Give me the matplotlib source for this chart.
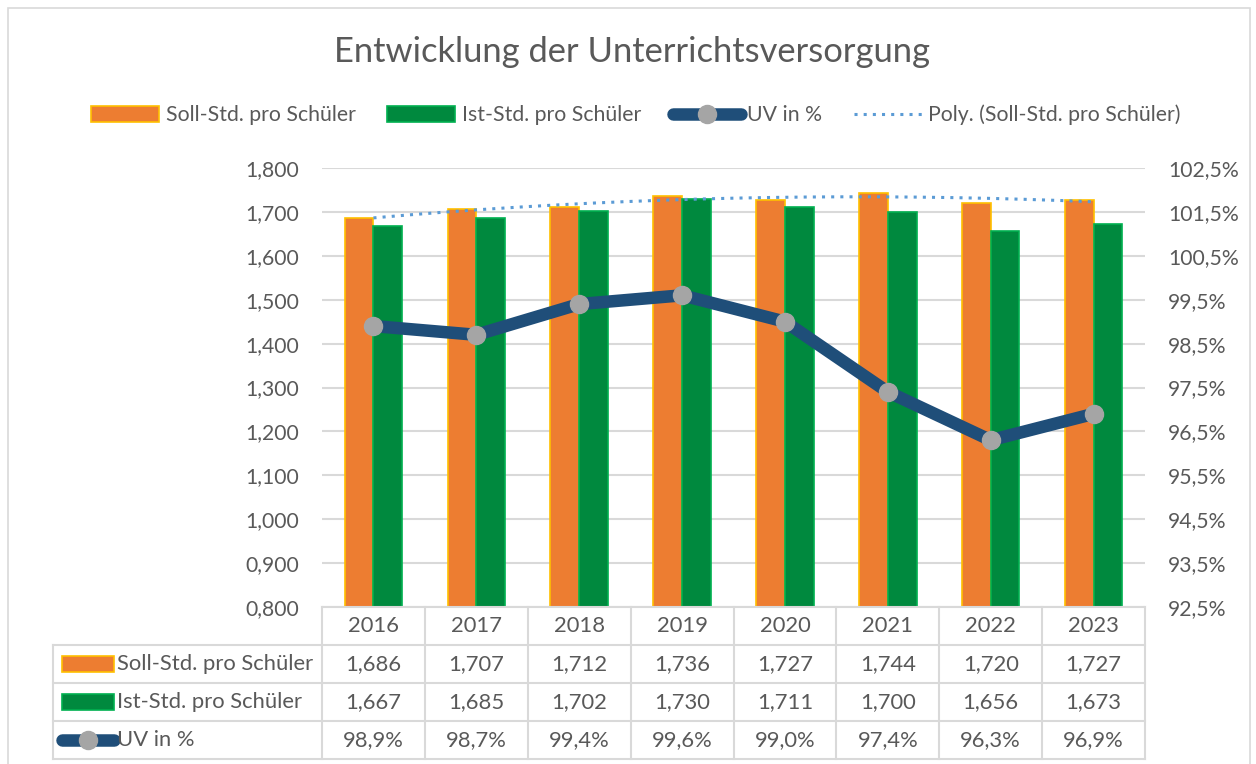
import numpy as np
import matplotlib.pyplot as plt
from matplotlib.patches import Patch, Rectangle
from matplotlib.lines import Line2D

plt.rcParams['font.family'] = ['Lato', 'DejaVu Sans']

years = ['2016', '2017', '2018', '2019', '2020', '2021', '2022', '2023']
soll = [1.686, 1.707, 1.712, 1.736, 1.727, 1.744, 1.720, 1.727]
ist = [1.667, 1.685, 1.702, 1.730, 1.711, 1.700, 1.656, 1.673]
uv = [98.9, 98.7, 99.4, 99.6, 99.0, 97.4, 96.3, 96.9]

row_labels = ['Soll-Std. pro Schüler', 'Ist-Std. pro Schüler', 'UV in %']

C_SOLL = '#ED7D31'
C_SOLL_EDGE = '#FFC000'
C_IST = '#00893E'
C_IST_EDGE = '#00B050'
C_UV = '#1F4E79'
C_MARK = '#A5A5A5'
C_TREND = '#5B9BD5'
C_TEXT = '#595959'
C_GRID = '#D9D9D9'

W, H = 1256, 764
fig = plt.figure(figsize=(W / 100, H / 100), dpi=100)


def fx(px):
    return px / W


def fy(py):
    return 1 - py / H


# plot area in pixels
L, R, T, B = 322, 1145, 168, 607
ax = fig.add_axes([fx(L), fy(B), fx(R - L), (B - T) / H])
x = np.arange(len(years))
bw = 0.28
ax.bar(x - bw / 2, soll, bw, color=C_SOLL, edgecolor=C_SOLL_EDGE, linewidth=1.2, zorder=2)
ax.bar(x + bw / 2, ist, bw, color=C_IST, edgecolor=C_IST_EDGE, linewidth=1.2, zorder=2)

# polynomial trend (order 2) of Soll
coef = np.polyfit(x + 1, soll, 2)
xs = np.linspace(0, len(years) - 1, 200)
ax.plot(xs, np.polyval(coef, xs + 1), color=C_TREND, linestyle=(0, (1, 2.0)),
        linewidth=2.2, zorder=4)

tick_fs = 15.2
ax.set_xlim(-0.5, len(years) - 0.5)
ax.set_ylim(0.8, 1.8)
ax.set_yticks(np.arange(0.8, 1.801, 0.1))
ax.set_yticklabels([f'{v:.3f}'.replace('.', ',') for v in np.arange(0.8, 1.801, 0.1)])
ax.yaxis.grid(True, color=C_GRID, linewidth=1.5, zorder=0)
ax.set_axisbelow(True)
ax.set_xticks([])
ax.tick_params(axis='y', length=0, pad=16.5, labelsize=tick_fs, labelcolor=C_TEXT)
for s in ax.spines.values():
    s.set_visible(False)

ax2 = ax.twinx()
ax2.plot(x, uv, color=C_UV, linewidth=9, marker='o', markersize=13,
         markerfacecolor=C_MARK, markeredgecolor=C_MARK, solid_capstyle='round', zorder=5)
ax2.set_ylim(92.5, 102.5)
ax2.set_yticks(np.arange(92.5, 102.51, 1.0))
ax2.set_yticklabels([f'{v:.1f}%'.replace('.', ',') for v in np.arange(92.5, 102.51, 1.0)])
ax2.tick_params(axis='y', length=0, pad=16.5, labelsize=tick_fs, labelcolor=C_TEXT)
for s in ax2.spines.values():
    s.set_visible(False)

# data table
TL, TT, TB = 53, 607, 759
cw = (R - L) / len(years)
tax = fig.add_axes([fx(TL), fy(TB), fx(R - TL), (TB - TT) / H])
tax.set_xlim(-0.5 - (L - TL) / cw, len(years) - 0.5)
tax.set_ylim(4, 0)
tax.axis('off')
x0 = -0.5 - (L - TL) / cw
lw = 1.5
tax.plot([-0.5, len(years) - 0.5], [0, 0], color=C_GRID, lw=lw, clip_on=False)
for r in range(1, 5):
    tax.plot([x0, len(years) - 0.5], [r, r], color=C_GRID, lw=lw, clip_on=False)
for c in range(len(years) + 1):
    tax.plot([c - 0.5, c - 0.5], [0, 4], color=C_GRID, lw=lw, clip_on=False)
tax.plot([x0, x0], [1, 4], color=C_GRID, lw=lw, clip_on=False)

fs = 15.8
for i, yr in enumerate(years):
    tax.text(i, 0.5, yr, ha='center', va='center', fontsize=fs, color=C_TEXT)
    tax.text(i, 1.5, f'{soll[i]:.3f}'.replace('.', ','), ha='center', va='center', fontsize=fs, color=C_TEXT)
    tax.text(i, 2.5, f'{ist[i]:.3f}'.replace('.', ','), ha='center', va='center', fontsize=fs, color=C_TEXT)
    tax.text(i, 3.5, f'{uv[i]:.1f}%'.replace('.', ','), ha='center', va='center', fontsize=fs, color=C_TEXT)

# legend keys inside the table
kx0 = x0 + 9 / cw
kw = 52 / cw
tax.add_patch(Rectangle((kx0, 1.5 - 0.2), kw, 0.4, facecolor=C_SOLL, edgecolor=C_SOLL_EDGE, lw=1.2))
tax.add_patch(Rectangle((kx0, 2.5 - 0.2), kw, 0.4, facecolor=C_IST, edgecolor=C_IST_EDGE, lw=1.2))
tax.plot([kx0, kx0 + kw], [3.5, 3.5], color=C_UV, lw=9, solid_capstyle='round')
tax.plot([kx0 + kw / 2], [3.5], marker='o', markersize=13, color=C_MARK)
for r, lab in enumerate(row_labels):
    tax.text(kx0 + kw + 3 / cw, 1.5 + r, lab, ha='left', va='center', fontsize=fs, color=C_TEXT)

# legend on top
handles = [
    Patch(facecolor=C_SOLL, edgecolor=C_SOLL_EDGE, linewidth=1.2),
    Patch(facecolor=C_IST, edgecolor=C_IST_EDGE, linewidth=1.2),
    Line2D([], [], color=C_UV, lw=9, marker='o', markersize=13, markevery=[1],
           markerfacecolor=C_MARK, markeredgecolor=C_MARK, solid_capstyle='round'),
    Line2D([], [], color=C_TREND, lw=2.2, linestyle=(0, (1, 2.0))),
]
labels = ['Soll-Std. pro Schüler', 'Ist-Std. pro Schüler', 'UV in %', 'Poly. (Soll-Std. pro Schüler)']
fig.legend(handles, labels, loc='center', bbox_to_anchor=(fx(636), fy(115)), ncol=4,
           frameon=False, fontsize=15.3, labelcolor=C_TEXT, handlelength=3.2,
           handleheight=0.75, handletextpad=0.3, columnspacing=1.5)

fig.text(fx(632), fy(52), 'Entwicklung der Unterrichtsversorgung', ha='center', va='center',
         fontsize=24.8, color=C_TEXT)

# outer chart border
fig.add_artist(Rectangle((fx(8), fy(780)), fx(1242), (780 - 8) / H, transform=fig.transFigure,
                         fill=False, edgecolor=C_GRID, lw=1.2))

fig.savefig('out.png', dpi=100)
